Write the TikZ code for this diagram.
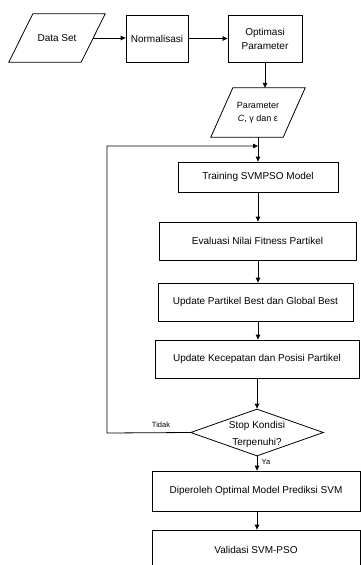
\documentclass[tikz,border=0pt]{standalone}
\usepackage{fontspec}
\setmainfont{Liberation Sans}
\usetikzlibrary{shapes.geometric,arrows.meta}
\begin{document}
\begin{tikzpicture}[x=1pt,y=-1pt,
  every node/.style={font=\fontsize{10}{12}\selectfont},
  box/.style={draw, line width=0.8pt, rectangle, inner sep=0pt, align=center},
  parabody/.style={rectangle, inner sep=0pt, align=center},
  arr/.style={line width=0.8pt, -{Triangle[length=5pt,width=4.5pt]}},
  lbl/.style={font=\fontsize{7.5}{9}\selectfont, inner sep=0pt}]
\useasboundingbox (0,0) rectangle (361,565);
\clip (0,0) rectangle (361,565);
% top row
\node[parabody, minimum width=72pt, minimum height=48pt] (ds) at (57,38) {Data Set};
\draw[line width=0.8pt] ([xshift=-12pt]ds.south west) -- ([xshift=-12pt]ds.south east)
   -- ([xshift=12pt]ds.north east) -- ([xshift=12pt]ds.north west) -- cycle;
\node[box, minimum width=62pt, minimum height=47pt] (norm) at (157,38.5) {Normalisasi};
\node[box, minimum width=74pt, minimum height=47pt, font=\fontsize{10}{14}\selectfont] (opt) at (265,38.5) {Optimasi\\Parameter};
\node[parabody, minimum width=72pt, minimum height=49pt, font=\fontsize{9}{13}\selectfont] (par) at (258,112.5) {Parameter\\\textit{C}, γ dan ε};
\draw[line width=0.8pt] ([xshift=-11pt]par.south west) -- ([xshift=-11pt]par.south east)
   -- ([xshift=11pt]par.north east) -- ([xshift=11pt]par.north west) -- cycle;
% process boxes
\node[box, minimum width=160pt, minimum height=30pt] (train) at (258,177) {Training SVMPSO Model};
\node[box, minimum width=197pt, minimum height=38pt] (eval) at (257.5,241) {Evaluasi Nilai Fitness Partikel};
\node[box, minimum width=195pt, minimum height=38pt] (best) at (255.5,302) {Update Partikel Best dan Global Best};
\node[box, minimum width=204pt, minimum height=38pt] (kec) at (257,359) {Update Kecepatan dan Posisi Partikel};
\node[draw, line width=0.8pt, diamond, minimum width=133pt, minimum height=47pt, inner sep=0pt] (dec) at (257,432.5) {};
\node[inner sep=0pt, align=center, font=\fontsize{10}{17}\selectfont] (dectext) at (257,434.5) {Stop Kondisi\\Terpenuhi?};
\node[box, minimum width=208pt, minimum height=40pt] (opm) at (256,491) {Diperoleh Optimal Model Prediksi SVM};
\node[box, minimum width=208pt, minimum height=60pt, text depth=20pt] (val) at (256,560) {Validasi SVM-PSO};
% labels
\node[lbl] (tidak) at (161,425) {Tidak};
\node[lbl] (ya) at (266,462) {Ya};
% connectors
\coordinate (join) at (258,146);
\coordinate (loopc) at (107,433);
\draw[arr] (ds.east) -- (ds.east -| norm.west);
\draw[arr] (norm.east) -- (opt.west);
\draw[arr] (opt.south) -- (opt.south |- par.north);
\draw[arr] (par.south) -- (train.north);
\draw[arr] (dec.west) -- (loopc) |- (join);
\draw[arr] (train.south) -- (train.south |- eval.north);
\draw[arr] (eval.south -| train.south) -- (train.south |- best.north);
\draw[arr] (best.south -| train.south) -- (train.south |- kec.north);
\draw[arr] (kec.south -| dec.north) -- (dec.north);
\draw[arr] (dec.south) -- (dec.south |- opm.north);
\draw[arr] (opm.south -| dec.south) -- (dec.south |- val.north);
\end{tikzpicture}
\end{document}
